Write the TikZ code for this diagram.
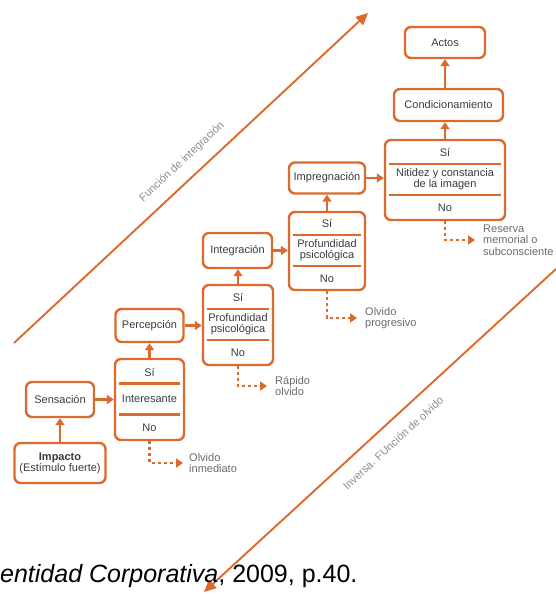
\documentclass[tikz,border=0pt]{standalone}
\usepackage{fontspec}
\setmainfont{Liberation Sans}
\usetikzlibrary{arrows.meta,calc}

\definecolor{naranja}{RGB}{220,106,44}
\definecolor{texto}{RGB}{58,58,68}
\definecolor{nota}{RGB}{105,105,112}
\definecolor{eje}{RGB}{140,140,148}

% A decision box: frame, "Sí" on top, question in the middle, "No" below,
% with two inset orange rules between the three parts.
% #1 name, #2 x, #3 y, #4 width, #5 height, #6 question
\newcommand{\cuadrodecision}[6]{%
  \node[caja, minimum width=#4, minimum height=#5] (#1) at (#2,#3) {};
  \node[txt] (#1-si) at ($(#1.center)+(0,-27)$) {Sí};
  \node[txt] (#1-q)  at ($(#1.center)+(0,-0.5)$) {#6};
  \node[txt] (#1-no) at ($(#1.center)+(0,28)$) {No};
  \draw[divisor] ($(#1.west)+(5,-16)$) -- ($(#1.east)+(-5,-16)$);
  \draw[divisor] ($(#1.west)+(5,15)$) -- ($(#1.east)+(-5,15)$);
}

\begin{document}
\begin{tikzpicture}[x=1pt,y=-1pt,
  caja/.style={draw=naranja, line width=2.4pt, rounded corners=6pt, fill=white,
    text=texto, font=\fontsize{11}{11}\selectfont, inner sep=0pt, align=center},
  txt/.style={text=texto, font=\fontsize{11}{11}\selectfont, inner sep=0pt, align=center},
  divisor/.style={draw=naranja, line width=2.6pt},
  flecha/.style={draw=naranja, line width=2.4pt, -{Triangle[length=7pt,width=9pt]}},
  olvido/.style={draw=naranja, line width=2.6pt, dash pattern=on 3pt off 3pt,
    -{Triangle[length=7pt,width=9pt]}},
  nota/.style={text=nota, font=\fontsize{11}{11.5}\selectfont, inner sep=0pt,
    align=left, anchor=west},
  diagonal/.style={draw=naranja, line width=1.9pt, -{Triangle[length=12pt,width=11pt]}},
  rotulo/.style={text=eje, font=\fontsize{11}{11}\selectfont, inner sep=0pt}
]
\useasboundingbox (0,0) rectangle (555,594);

% --- the two diagonal axes ---
\coordinate (int-a) at (14,343);
\coordinate (int-b) at (368,13);
\draw[diagonal] (int-a) -- (int-b);
\node[rotulo, rotate=43] (int-l) at (182,162) {Función de integración};

\coordinate (olv-a) at (556,269);
\coordinate (olv-b) at (204,592);
\draw[diagonal] (olv-a) -- (olv-b);
\node[rotulo, rotate=42.5] (olv-l) at (393,443) {Inversa. FUnción de olvido};

% --- simple boxes ---
\node[caja, minimum width=68, minimum height=35] (sens)   at (60,399.5)  {Sensación};
\node[caja, minimum width=91, minimum height=40] (imp)    at (60,463)    {\textbf{Impacto}\\(Estímulo fuerte)};
\node[caja, minimum width=68, minimum height=33] (perc)   at (149.5,325.5) {Percepción};
\node[caja, minimum width=69, minimum height=35] (integ)  at (237.5,250.5) {Integración};
\node[caja, minimum width=76, minimum height=31] (impreg) at (327,178)   {Impregnación};
\node[caja, minimum width=109, minimum height=32] (cond)  at (448.5,105) {Condicionamiento};
\node[caja, minimum width=80, minimum height=31] (actos)  at (445,42.5)  {Actos};

% --- decision boxes ---
\cuadrodecision{d1}{149.5}{399.5}{69}{81}{Interesante}
\cuadrodecision{d2}{238}{325}{70}{80}{Profundidad\\psicológica}
\cuadrodecision{d3}{327}{251}{76}{78}{Profundidad\\psicológica}
\cuadrodecision{d4}{445}{180}{120}{80}{Nitidez y constancia\\de la imagen}

% --- main flow ---
\draw[flecha] (imp.north) -- (sens.south);
\draw[flecha] (sens.east) -- (sens.east -| d1.west);
\draw[flecha] (d1.north) -- (perc.south);
\draw[flecha] (perc.east) -- (perc.east -| d2.west);
\draw[flecha] (d2.north) -- (d2.north |- integ.south);
\draw[flecha] (integ.east) -- (integ.east -| d3.west);
\draw[flecha] (d3.north) -- (impreg.south);
\draw[flecha] (impreg.east) -- (impreg.east -| d4.west);
\draw[flecha] (d4.north) -- (d4.north |- cond.south);
\draw[flecha] (actos.south |- cond.north) -- (actos.south);

% --- forgetting branches ---
\coordinate (o1) at (183,463);
\draw[olvido] (d1.south) |- (o1);
\node[nota] (n1) at ($(o1)+(6,0)$) {Olvido\\inmediato};

\coordinate (o2) at (267,386);
\draw[olvido] (d2.south) |- (o2);
\node[nota] (n2) at ($(o2)+(8,0)$) {Rápido\\olvido};

\coordinate (o3) at (357,318);
\draw[olvido] (d3.south) |- (o3);
\node[nota] (n3) at ($(o3)+(8,0)$) {Olvido\\progresivo};

\coordinate (o4) at (475,240);
\draw[olvido] (d4.south) |- (o4);
\node[nota] (n4) at ($(o4)+(8,0)$) {Reserva\\memorial o\\subconsciente};

% --- source line ---
\node[anchor=base west, inner sep=0pt, text=black, font=\fontsize{25}{30}\selectfont]
  (fuente) at (0,582) {\textit{entidad Corporativa}, 2009, p.40.};
\end{tikzpicture}
\end{document}
